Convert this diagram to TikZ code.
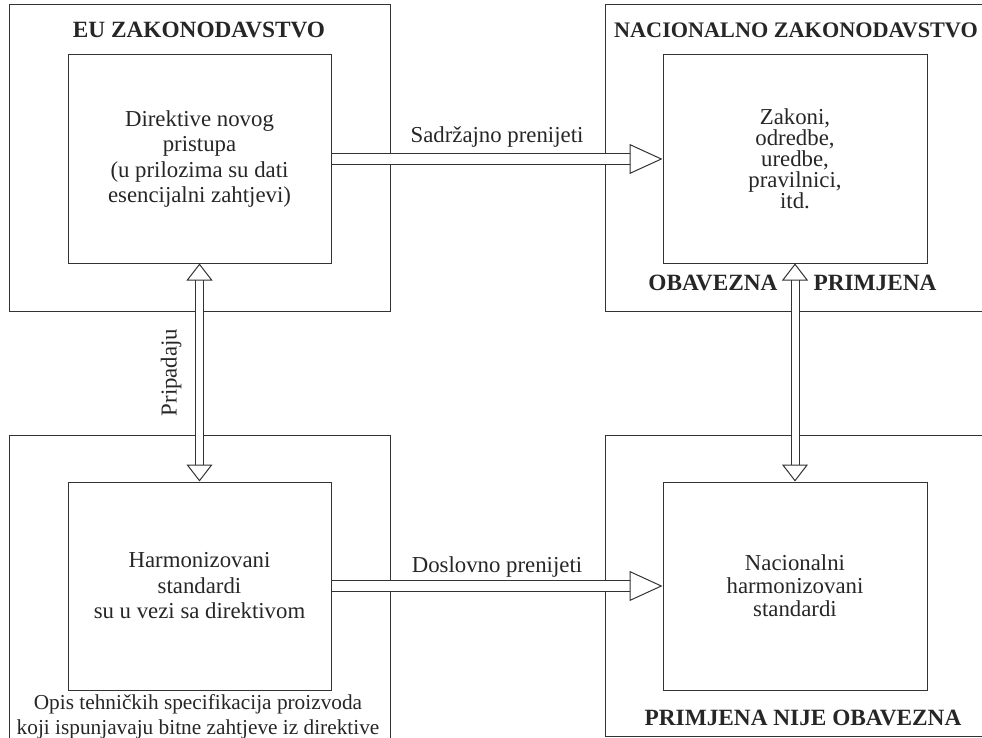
\documentclass[tikz,border=0pt]{standalone}
\usepackage{fontspec}
\setmainfont{Liberation Serif}
\usetikzlibrary{arrows.meta}
\begin{document}
\begin{tikzpicture}[x=1pt,y=-1pt]
\clip (0,0) rectangle (982,738);
% Box and arrow styles
\tikzstyle{outer_box} = [rectangle, draw=black!80, line width=1pt, minimum width=381pt, minimum height=306pt, inner sep=0pt]
\tikzstyle{inner_box} = [rectangle, draw=black!80, line width=1pt, minimum width=263pt, minimum height=208pt, align=center, text=black!85, font=\fontsize{22.8}{25.5}\selectfont]
\tikzstyle{title_text} = [text=black!85, font=\fontsize{23.3}{26}\selectfont\bfseries]
\tikzstyle{arrow_label} = [text=black!85, inner sep=0pt, font=\fontsize{22.8}{26}\selectfont]
\tikzstyle{hollow_arrow} = [draw=black!80, line width=1pt, double=white, double distance=10pt]

% Outer frames
\node[outer_box] (eu_frame) at (199.5,158) {};
\node[outer_box, minimum width=385pt] (nat_frame) at (797.5,158) {};
\node[outer_box, minimum height=310pt] (eu_std_frame) at (199.5,590) {};
\node[outer_box, minimum width=385pt, minimum height=301pt] (nat_std_frame) at (797.5,585.5) {};

% Frame titles
\node[title_text] (eu_title) at (199,30) {EU ZAKONODAVSTVO};
\node[title_text, font=\fontsize{22.2}{26}\selectfont\bfseries] (nat_title) at (796,30) {NACIONALNO ZAKONODAVSTVO};
\node[title_text] (mandatory) at (713,283) {OBAVEZNA};
\node[title_text] (use) at (875,283) {PRIMJENA};
\node[title_text] (not_mandatory) at (803,718) {PRIMJENA NIJE OBAVEZNA};
\node[text=black!85, align=center, font=\fontsize{21.3}{25}\selectfont] (descr) at (198,717) {
    Opis tehničkih specifikacija proizvoda\\
    koji ispunjavaju bitne zahtjeve iz direktive
};

% Inner boxes
\node[inner_box] (directives) at (199.5,159) {
    Direktive novog\\
    pristupa\\
    (u prilozima su dati\\
    esencijalni zahtjevi)
};

\node[inner_box, minimum width=264pt, font=\fontsize{22.8}{21}\selectfont] (laws) at (795,159) {
    Zakoni,\\
    odredbe,\\
    uredbe,\\
    pravilnici,\\
    itd.
};

\node[inner_box] (harm_std) at (199.5,586) {
    Harmonizovani\\
    standardi\\
    su u vezi sa direktivom
};

\node[inner_box, minimum width=264pt, font=\fontsize{22.8}{23}\selectfont] (nat_std) at (795,586) {
    Nacionalni\\
    harmonizovani\\
    standardi
};

% Transposition arrows
\draw[hollow_arrow, -{Triangle[open, length=33pt, width=30pt]}] (directives) -- (laws)
    node[arrow_label, midway, anchor=south, yshift=11pt] {Sadržajno prenijeti};
\draw[hollow_arrow, -{Triangle[open, length=33pt, width=30pt]}] (harm_std) -- (nat_std)
    node[arrow_label, midway, anchor=south, yshift=8pt] {Doslovno prenijeti};

% Vertical links
\draw[hollow_arrow, double distance=7pt, {Triangle[open, length=17pt, width=26pt]}-{Triangle[open, length=17pt, width=26pt]}] (directives) -- (harm_std)
    node[arrow_label, midway, rotate=90, anchor=south, outer ysep=18pt] {Pripadaju};
\draw[hollow_arrow, double distance=7pt, {Triangle[open, length=17pt, width=26pt]}-{Triangle[open, length=17pt, width=26pt]}] (laws) -- (nat_std);
\end{tikzpicture}
\end{document}
